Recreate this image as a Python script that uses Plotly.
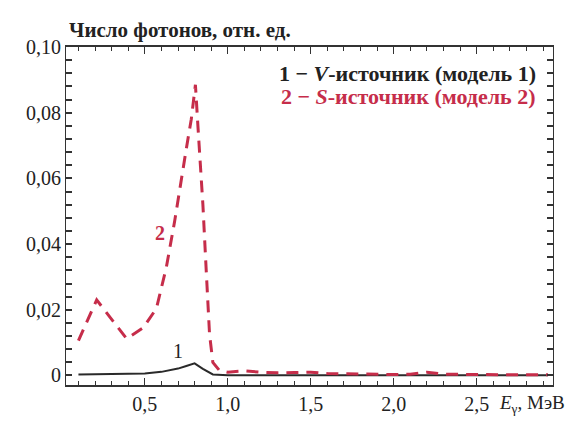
import plotly.graph_objects as go

# Photon spectra, relative units
energy_v = [0.10, 0.30, 0.50, 0.60, 0.70, 0.75, 0.80, 0.85, 0.91, 1.00, 1.50, 2.00, 2.50, 2.93]
photons_v = [0.0003, 0.0004, 0.0006, 0.0011, 0.0021, 0.0029, 0.0037, 0.0020, 0.0003, 0.0001,
             0.0001, 0.0001, 0.0001, 0.0001]

energy_s = [0.10, 0.21, 0.39, 0.49, 0.57, 0.63, 0.68, 0.71, 0.75, 0.78, 0.805, 0.82, 0.85,
            0.87, 0.89, 0.91, 0.95, 1.00, 1.10, 1.20, 1.30, 1.40, 1.50, 1.60, 1.70, 1.80,
            1.90, 2.00, 2.10, 2.20, 2.30, 2.40, 2.50, 2.60, 2.70, 2.80, 2.93]
photons_s = [0.0106, 0.0230, 0.0112, 0.0145, 0.0204, 0.0330, 0.0470, 0.0570, 0.0690, 0.0780,
             0.0885, 0.0760, 0.0520, 0.0320, 0.0126, 0.0040, 0.0015, 0.0010, 0.0014, 0.0010,
             0.0008, 0.0009, 0.0010, 0.0006, 0.0005, 0.0004, 0.0004, 0.0003, 0.0004, 0.0010,
             0.0004, 0.0003, 0.0003, 0.0003, 0.0002, 0.0002, 0.0002]

x_ticks = [0.5, 1.0, 1.5, 2.0, 2.5]
x_labels = ["0,5", "1,0", "1,5", "2,0", "2,5"]
y_labels = {0: "0", 5: "0,02", 10: "0,04", 15: "0,06", 20: "0,08", 25: "0,10"}
y_step = 0.004  # tick spacing on the count axis; every fifth tick is labelled

y_ticks = [round(i * y_step, 4) for i in range(26)]
y_text = [y_labels.get(i, "") for i in range(26)]

RED = "#c62d4a"
BLACK = "#2a2a2a"
AXIS = "#333333"
SERIF = "Liberation Serif"

fig = go.Figure()
fig.add_trace(go.Scatter(x=energy_v, y=photons_v, mode="lines",
                         line=dict(color=BLACK, width=2), showlegend=False))
fig.add_trace(go.Scatter(x=energy_s, y=photons_s, mode="lines",
                         line=dict(color=RED, width=3, dash="12px,8px"), showlegend=False))

fig.update_xaxes(range=[0.025, 2.96], showline=True, linecolor=AXIS, mirror="allticks",
                 ticks="inside", ticklen=7, tickcolor=AXIS, tickwidth=1.3, linewidth=1.5,
                 showgrid=False, zeroline=False,
                 tickvals=x_ticks, ticktext=x_labels,
                 tickfont=dict(family=SERIF, size=20, color="#222"),
                 minor=dict(dtick=0.1, ticks="inside", ticklen=4, tickcolor=AXIS))
fig.update_yaxes(range=[-0.0029, 0.1], showline=True, linecolor=AXIS, mirror="allticks",
                 ticks="inside", ticklen=6, tickcolor=AXIS, tickwidth=2,
                 gridcolor="white", zerolinecolor="white",
                 tickvals=y_ticks, ticktext=y_text,
                 tickfont=dict(family=SERIF, size=20, color="#222"))

fig.add_annotation(text="<b>Число фотонов, отн. ед.</b>", xref="paper", yref="paper",
                   x=0.003, y=1.01, xanchor="left", yanchor="bottom", showarrow=False,
                   font=dict(family=SERIF, size=21, color="#222"))
fig.add_annotation(text="<b>1 − <i>V</i>-источник (модель 1)</b>", xref="paper", yref="paper",
                   x=0.969, y=0.923, xanchor="right", yanchor="middle", showarrow=False,
                   font=dict(family=SERIF, size=22, color="#222"))
fig.add_annotation(text="<b>2 − <i>S</i>-источник (модель 2)</b>", xref="paper", yref="paper",
                   x=0.969, y=0.854, xanchor="right", yanchor="middle", showarrow=False,
                   font=dict(family=SERIF, size=22, color=RED))
fig.add_annotation(text="1", x=0.70, y=0.0075, showarrow=False,
                   font=dict(family=SERIF, size=20, color="#222"))
fig.add_annotation(text="<b>2</b>", x=0.59, y=0.0435, showarrow=False,
                   font=dict(family=SERIF, size=20, color=RED))
fig.add_annotation(text="<i>E</i><sub>γ</sub>, МэВ", xref="paper", yref="paper",
                   x=0.885, y=-0.015, xanchor="left", yanchor="top", showarrow=False,
                   font=dict(family=SERIF, size=19, color="#222"))

fig.update_layout(width=579, height=427, margin=dict(l=66, r=26, t=47, b=31),
                  paper_bgcolor="white", plot_bgcolor="white")

fig.write_html("out.html")
